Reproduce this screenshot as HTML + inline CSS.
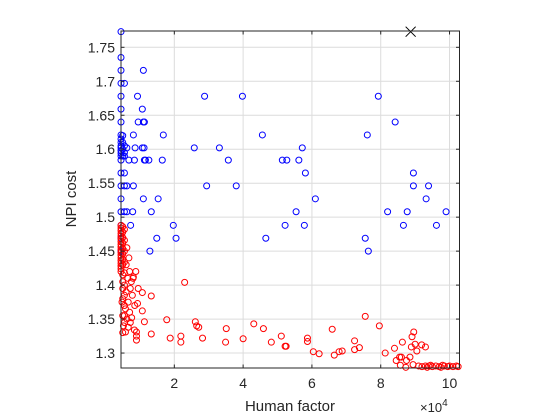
<!DOCTYPE html>
<html><head><meta charset="utf-8"><style>
html,body{margin:0;padding:0;background:#fff;}
svg{display:block;font-family:"Liberation Sans",sans-serif;}
</style></head><body>
<svg id="chart" width="560" height="420" viewBox="0 0 560 420">
<rect width="560" height="420" fill="#fff"/>
<g id="grid"></g>
<g id="marks"></g>
<rect x="121" y="31" width="338.5" height="337" fill="none" stroke="#262626" stroke-width="1"/>
<g id="ticks"></g>
<text x="290" y="411" font-size="15" text-anchor="middle" fill="#262626">Human factor</text>
<text transform="translate(76,199) rotate(-90)" font-size="15" text-anchor="middle" fill="#262626">NPI cost</text>
<text x="420" y="412" font-size="13" fill="#262626">×10<tspan font-size="10" dy="-6">4</tspan></text>
</svg>
<script>
const xTicks=[2,4,6,8,10];
const yTicks=[1.3,1.35,1.4,1.45,1.5,1.55,1.6,1.65,1.7,1.75];
const yTickLabels=["1.3","1.35","1.4","1.45","1.5","1.55","1.6","1.65","1.7","1.75"];
const blueX=[.45,.45,.45,1.10,.45,.55,.45,.93,2.88,3.98,.45,1.07,.45,.95,1.10,1.13,.45,.81,1.68,4.56,.45,.45,.45,.45,.45,.45,.45,.5,.5,.5,.5,.55,.55,.55,.62,.86,1.07,1.12,2.58,3.31,.45,.68,.84,1.13,1.16,1.26,1.65,3.57,5.14,5.27,5.62,.45,.55,.45,.55,.62,.81,2.94,3.80,.45,1.10,1.53,.45,.55,.62,.79,1.33,5.72,5.81,6.10,5.54,5.22,5.78,.45,.73,1.97,.45,1.49,2.05,4.66,.45,1.29,7.93,8.42,7.61,8.95,8.95,9.39,9.32,8.20,8.77,9.90,8.66,9.62,7.55,7.64];
const blueY=[1.773,1.735,1.716,1.716,1.697,1.697,1.678,1.678,1.678,1.678,1.659,1.659,1.640,1.640,1.640,1.640,1.621,1.621,1.621,1.621,1.615,1.610,1.605,1.598,1.594,1.590,1.602,1.62,1.61,1.60,1.59,1.605,1.595,1.59,1.602,1.602,1.602,1.602,1.602,1.602,1.584,1.584,1.584,1.584,1.584,1.584,1.584,1.584,1.584,1.584,1.584,1.565,1.565,1.546,1.546,1.546,1.546,1.546,1.546,1.527,1.527,1.527,1.508,1.508,1.508,1.508,1.508,1.602,1.565,1.527,1.508,1.488,1.488,1.488,1.488,1.488,1.469,1.469,1.469,1.469,1.45,1.45,1.678,1.640,1.621,1.565,1.546,1.546,1.527,1.508,1.508,1.508,1.488,1.488,1.469,1.450];
const redX=[.45,.45,.45,.45,.45,.45,.45,.45,.45,.45,.45,.45,.45,.45,.45,.45,.45,.45,.5,.5,.5,.5,.5,.5,.5,.5,.5,.5,.5,.55,.55,.55,.55,.55,.55,.55,.55,.55,.55,.62,.68,.6,.7,.75,.65,.8,.72,.6,.78,.5,.66,.85,.58,.7,.5,.62,.76,.52,.66,.72,.48,.5,.95,.88,
2.30,1.07,1.33,.81,.93,1.07,1.13,1.78,2.61,2.65,2.71,3.51,4.31,4.59,5.11,.84,.58,.90,.90,.90,1.33,1.88,2.19,2.19,2.82,3.49,4.00,4.82,5.22,5.25,5.87,5.87,6.04,6.21,6.59,6.65,6.79,6.88,7.24,7.24,7.38,7.55,7.96,8.13,8.40,8.63,8.45,8.55,8.6,8.85,8.75,8.57,8.73,8.89,8.91,8.96,9.00,9.05,9.19,9.30,8.94,9.10,9.2,9.3,9.35,9.4,9.5,9.6,9.7,9.75,9.85,9.95,10.0,10.1,10.2,10.25,9.45,9.8];
const redY=[1.488,1.484,1.480,1.476,1.472,1.468,1.464,1.460,1.456,1.452,1.448,1.444,1.440,1.436,1.432,1.428,1.424,1.420,1.486,1.478,1.470,1.462,1.454,1.446,1.438,1.430,1.415,1.405,1.395,1.482,1.466,1.450,1.434,1.418,1.400,1.385,1.370,1.355,1.345,1.455,1.44,1.43,1.42,1.405,1.41,1.41,1.395,1.39,1.385,1.38,1.375,1.37,1.365,1.36,1.355,1.35,1.352,1.34,1.338,1.345,1.375,1.33,1.395,1.42,
1.404,1.389,1.384,1.412,1.373,1.362,1.346,1.349,1.346,1.340,1.338,1.336,1.343,1.336,1.325,1.334,1.331,1.331,1.325,1.319,1.328,1.322,1.325,1.316,1.322,1.316,1.321,1.316,1.310,1.310,1.322,1.317,1.302,1.299,1.335,1.297,1.302,1.303,1.318,1.305,1.308,1.354,1.340,1.300,1.307,1.316,1.289,1.294,1.294,1.294,1.289,1.282,1.279,1.309,1.324,1.331,1.313,1.303,1.312,1.309,1.283,1.281,1.280,1.281,1.279,1.281,1.280,1.281,1.280,1.279,1.281,1.280,1.281,1.280,1.281,1.280,1.282,1.282];
const markX=[8.87], markY=[1.773];

const X0=0.45,X1=10.29,PX0=121,PX1=459.5;
const Y0=1.278,Y1=1.774,PY0=368,PY1=31;
const sx=v=>PX0+(v-X0)/(X1-X0)*(PX1-PX0);
const sy=v=>PY0-(v-Y0)/(Y1-Y0)*(PY0-PY1);
const NS="http://www.w3.org/2000/svg";
const grid=document.getElementById('grid'),ticks=document.getElementById('ticks'),marks=document.getElementById('marks');
function mk(tag,attrs,parent){const e=document.createElementNS(NS,tag);for(const k in attrs)e.setAttribute(k,attrs[k]);parent.appendChild(e);return e;}
xTicks.forEach(t=>{const x=sx(t);
 const g=mk('line',{x1:x,x2:x,y1:PY1,y2:PY0,stroke:'#dcdcdc','stroke-width':1},grid);
 
 
 const a=mk('line',{x1:x,x2:x,y1:PY0,y2:PY0-3.5,stroke:'#262626'},ticks);
 
 
 const b=mk('line',{x1:x,x2:x,y1:PY1,y2:PY1+3.5,stroke:'#262626'},ticks);
 
 
 const l=mk('text',{x:x,y:PY0+20,'font-size':14,'text-anchor':'middle',fill:'#262626'},ticks);l.textContent=String(t);
 
 
});
yTicks.forEach((t,i)=>{const y=sy(t);
 const g=mk('line',{x1:PX0,x2:PX1,y1:y,y2:y,stroke:'#dcdcdc','stroke-width':1},grid);
 
 
 const a=mk('line',{x1:PX0,x2:PX0+3.5,y1:y,y2:y,stroke:'#262626'},ticks);
 
 
 const b=mk('line',{x1:PX1,x2:PX1-3.5,y1:y,y2:y,stroke:'#262626'},ticks);
 
 
 const l=mk('text',{x:PX0-6,y:y+5,'font-size':14,'text-anchor':'end',fill:'#262626'},ticks);l.textContent=yTickLabels[i];
 
 
});
blueX.forEach((v,i)=>{const c=mk('circle',{cx:sx(v),cy:sy(blueY[i]),r:3,fill:'none',stroke:'#0000ff','stroke-width':1},marks);
 
 });
redX.forEach((v,i)=>{const c=mk('circle',{cx:sx(v),cy:sy(redY[i]),r:3,fill:'none',stroke:'#ff0000','stroke-width':1},marks);
 
 });
markX.forEach((v,i)=>{const x=sx(v),y=sy(markY[i]);
 const p=mk('path',{d:`M${x-5},${y-5}L${x+5},${y+5}M${x-5},${y+5}L${x+5},${y-5}`,stroke:'#000','stroke-width':1},marks);
 
 });
</script>
</body></html>
